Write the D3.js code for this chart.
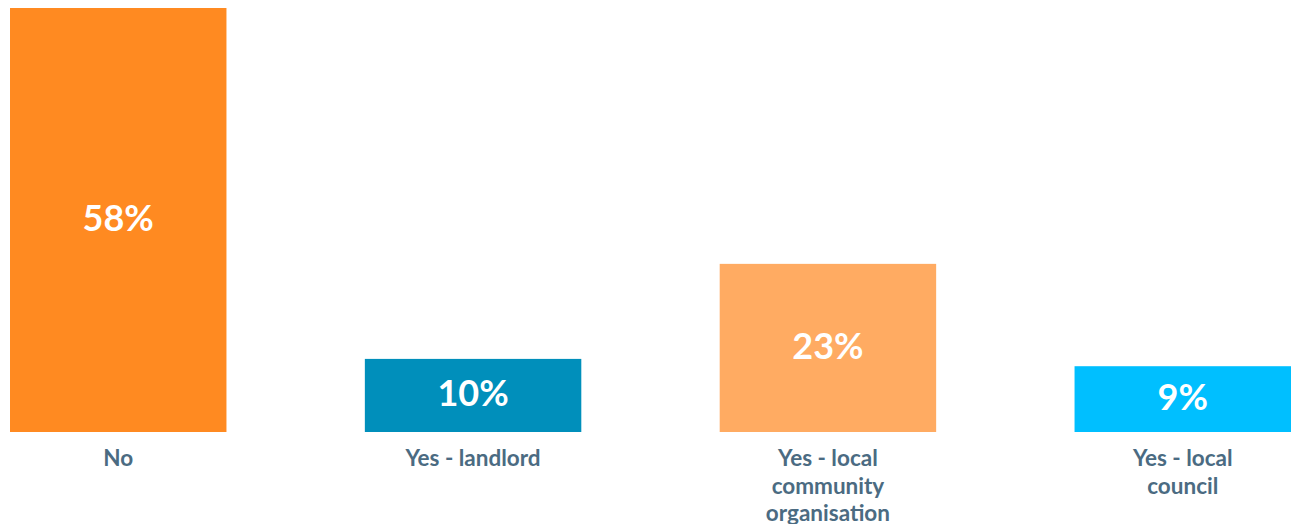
<!DOCTYPE html>
<html>
<head>
<meta charset="utf-8">
<script src="https://cdn.jsdelivr.net/npm/d3@7"></script>
<style>
  html, body { margin: 0; padding: 0; background: #ffffff; overflow: hidden; }
  svg { display: block; }
  .value { font-family: Lato, "Open Sans", sans-serif; font-weight: 700; fill: #ffffff; }
  .cat { font-family: Lato, "Open Sans", sans-serif; font-weight: 700; fill: #4b6b82; }
</style>
</head>
<body>
<svg id="chart" width="1291" height="524"></svg>
<script>
// Responses: has anyone offered help?
const categories = ["No", "Yes - landlord", "Yes - local community organisation", "Yes - local council"];
const categoryLines = [["No"], ["Yes - landlord"], ["Yes - local", "community", "organisation"], ["Yes - local", "council"]];
const values = [58, 10, 23, 9];
const colors = ["#ff8a21", "#008fbb", "#ffab62", "#00bfff"];

const plotTop = 8, plotBottom = 432;

const svg = d3.select("#chart");

const x = d3.scaleBand()
  .domain(categories)
  .range([10, 1291])
  .paddingInner(0.39)
  .paddingOuter(0);

const y = d3.scaleLinear()
  .domain([0, 58])
  .range([plotBottom, plotTop]);

const g = svg.append("g");

g.selectAll("rect.bar")
  .data(values)
  .join("rect")
  .attr("class", "bar")
  .attr("x", (d, i) => x(categories[i]))
  .attr("y", d => y(d))
  .attr("width", x.bandwidth())
  .attr("height", d => y(0) - y(d))
  .attr("fill", (d, i) => colors[i]);

g.selectAll("text.value")
  .data(values)
  .join("text")
  .attr("class", "value")
  .attr("x", (d, i) => x(categories[i]) + x.bandwidth() / 2)
  .attr("y", d => (y(d) + y(0)) / 2 + 11)
  .attr("text-anchor", "middle")
  .attr("font-size", 36)
  .text(d => d + "%");

const labels = g.selectAll("text.cat")
  .data(categories)
  .join("text")
  .attr("class", "cat")
  .attr("text-anchor", "middle")
  .attr("font-size", 22.5)
  .attr("x", d => x(d) + x.bandwidth() / 2)
  .attr("y", 466);

labels.each(function(d, i) {
  const t = d3.select(this);
  const cx = x(d) + x.bandwidth() / 2;
  categoryLines[i].forEach((line, j) => {
    t.append("tspan")
      .attr("x", cx)
      .attr("y", 466 + j * 27.5)
      .text(line);
  });
});
</script>
</body>
</html>
